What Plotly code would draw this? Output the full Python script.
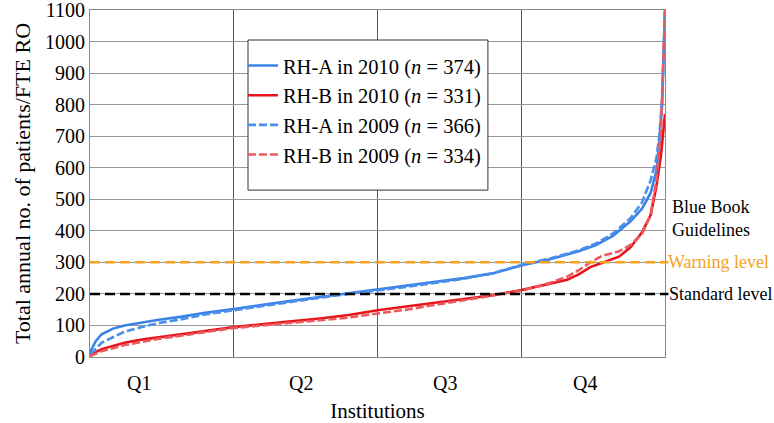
import plotly.graph_objects as go

# ---- data (percentile of institutions, annual patients per FTE RO) ----
rh_a_2010_pct = [0, 0.005, 0.01, 0.02, 0.04, 0.06, 0.09, 0.12, 0.16, 0.20, 0.25, 0.30, 0.35, 0.40, 0.45,
                 0.50, 0.55, 0.60, 0.65, 0.70, 0.75, 0.80, 0.85, 0.88, 0.91, 0.94, 0.96, 0.975, 0.985,
                 0.99, 0.995, 1.0]
rh_a_2010_val = [15, 35, 50, 72, 90, 100, 110, 118, 128, 140, 152, 166, 178, 190, 202,
                 213, 226, 238, 250, 265, 290, 310, 335, 355, 385, 430, 470, 520, 590,
                 680, 800, 1100]

rh_b_2010_pct = [0, 0.01, 0.02, 0.04, 0.06, 0.09, 0.12, 0.16, 0.20, 0.25, 0.30, 0.35, 0.40, 0.45,
                 0.50, 0.55, 0.60, 0.65, 0.70, 0.75, 0.80, 0.83, 0.85, 0.87, 0.89, 0.92, 0.94,
                 0.96, 0.975, 0.985, 0.993, 1.0]
rh_b_2010_val = [5, 15, 25, 35, 45, 55, 63, 72, 82, 95, 105, 113, 122, 133,
                 148, 160, 170, 182, 196, 212, 232, 245, 262, 285, 298, 318, 348,
                 395, 450, 540, 640, 770]

rh_a_2009_pct = [0, 0.01, 0.02, 0.04, 0.06, 0.09, 0.12, 0.16, 0.20, 0.25, 0.30, 0.35, 0.40, 0.45,
                 0.50, 0.55, 0.60, 0.65, 0.70, 0.75, 0.80, 0.85, 0.88, 0.91, 0.94, 0.96, 0.975,
                 0.985, 0.99, 0.995, 1.0]
rh_a_2009_val = [10, 25, 45, 62, 80, 95, 108, 120, 135, 148, 162, 175, 188, 200,
                 210, 222, 235, 248, 265, 292, 312, 338, 360, 392, 440, 490, 560,
                 630, 700, 820, 1100]

rh_b_2009_pct = [0, 0.01, 0.02, 0.04, 0.06, 0.09, 0.12, 0.16, 0.20, 0.25, 0.30, 0.35, 0.40, 0.45,
                 0.50, 0.55, 0.60, 0.65, 0.70, 0.75, 0.80, 0.83, 0.85, 0.87, 0.89, 0.92, 0.94,
                 0.96, 0.975, 0.985, 0.993, 1.0]
rh_b_2009_val = [3, 10, 18, 28, 38, 48, 58, 68, 78, 92, 100, 108, 115, 125,
                 138, 150, 165, 180, 195, 210, 235, 255, 275, 300, 320, 335, 355,
                 390, 450, 560, 720, 1100]

series_names = ["RH-A in 2010 (<i>n</i> = 374)", "RH-B in 2010 (<i>n</i> = 331)",
                "RH-A in 2009 (<i>n</i> = 366)", "RH-B in 2009 (<i>n</i> = 334)"]

standard_level = 200
warning_level = 300
guideline_label_y = 440
quartile_bounds = [0.25, 0.5, 0.75]
quartile_labels = ["Q1", "Q2", "Q3", "Q4"]
quartile_label_pos = [0.085, 0.367, 0.617, 0.861]
y_ticks = list(range(0, 1101, 100))

FONT = "Liberation Serif"
BLUE = "#3B82E6"
RED = "#E8141B"
BLUE_L = "#4A8FEA"
RED_L = "#EA5A5E"
ORANGE = "#F4A21F"

fig = go.Figure()
specs = [
    (rh_a_2010_pct, rh_a_2010_val, BLUE, "solid"),
    (rh_b_2010_pct, rh_b_2010_val, RED, "solid"),
    (rh_a_2009_pct, rh_a_2009_val, BLUE_L, "8px,3px"),
    (rh_b_2009_pct, rh_b_2009_val, RED_L, "8px,3px"),
]
for i, (xs, ys, c, d) in enumerate(specs):
    fig.add_trace(go.Scatter(x=xs, y=ys, mode="lines", name=series_names[i],
                             legendgroup=f"g{i}",
                             line=dict(color=c, width=2.6, dash=d)))

fig.add_shape(type="line", xref="paper", yref="y", x0=0, x1=1.006,
              y0=warning_level, y1=warning_level,
              line=dict(color=ORANGE, width=2.5, dash="10px,5px"))
fig.add_shape(type="line", xref="paper", yref="y", x0=0, x1=1.006,
              y0=standard_level, y1=standard_level,
              line=dict(color="black", width=2.5, dash="10px,5px"))

# legend frame
fig.add_shape(type="rect", xref="paper", yref="paper", x0=0.2748, x1=0.692, y0=0.481, y1=0.9135,
              line=dict(color="#333", width=1), fillcolor="white", layer="above")

for lab, xp in zip(quartile_labels, quartile_label_pos):
    fig.add_annotation(x=xp, y=-0.075, xref="x", yref="paper", text=lab, showarrow=False,
                       font=dict(family=FONT, size=20, color="black"), yanchor="middle")

fig.add_annotation(x=1.0, xref="paper", xanchor="left", xshift=5, y=guideline_label_y, yref="y",
                   text="Blue Book<br>Guidelines", showarrow=False, align="left",
                   font=dict(family=FONT, size=18, color="black"))
fig.add_annotation(x=1.0, xref="paper", xanchor="left", xshift=1, y=warning_level, yref="y",
                   text="Warning level", showarrow=False, align="left",
                   font=dict(family=FONT, size=18, color=ORANGE))
fig.add_annotation(x=1.0, xref="paper", xanchor="left", xshift=2, y=standard_level, yref="y",
                   text="Standard level", showarrow=False, align="left",
                   font=dict(family=FONT, size=18, color="black"))

fig.update_layout(
    width=774, height=423,
    margin=dict(l=90, r=109, t=10, b=66, autoexpand=False),
    paper_bgcolor="white", plot_bgcolor="white",
    font=dict(family=FONT, size=20, color="black"),
    showlegend=True,
    legend=dict(x=0.266, y=0.897, xanchor="left", yanchor="top",
                bgcolor="rgba(0,0,0,0)", borderwidth=0,
                font=dict(family=FONT, size=20.5, color="black"),
                traceorder="grouped", tracegroupgap=0),
    xaxis=dict(range=[0, 1], tickvals=quartile_bounds, ticktext=["", "", ""],
               showgrid=True, gridcolor="#555", gridwidth=1, zeroline=False,
               showline=True, linecolor="#888", mirror=True, ticks="",
               title=dict(text="Institutions", font=dict(size=21), standoff=42)),
    yaxis=dict(range=[0, 1100], tickvals=y_ticks, showgrid=True, gridcolor="#999",
               gridwidth=1, zeroline=False, showline=True, linecolor="#888", mirror=True,
               ticks="", tickfont=dict(size=20), ticklabeloverflow="allow",
               title=dict(text="Total annual no. of patients/FTE RO", font=dict(size=22), standoff=8)),
)

fig.write_html("out.html", config={"displayModeBar": False},
               post_script="document.body.style.margin='0';")
